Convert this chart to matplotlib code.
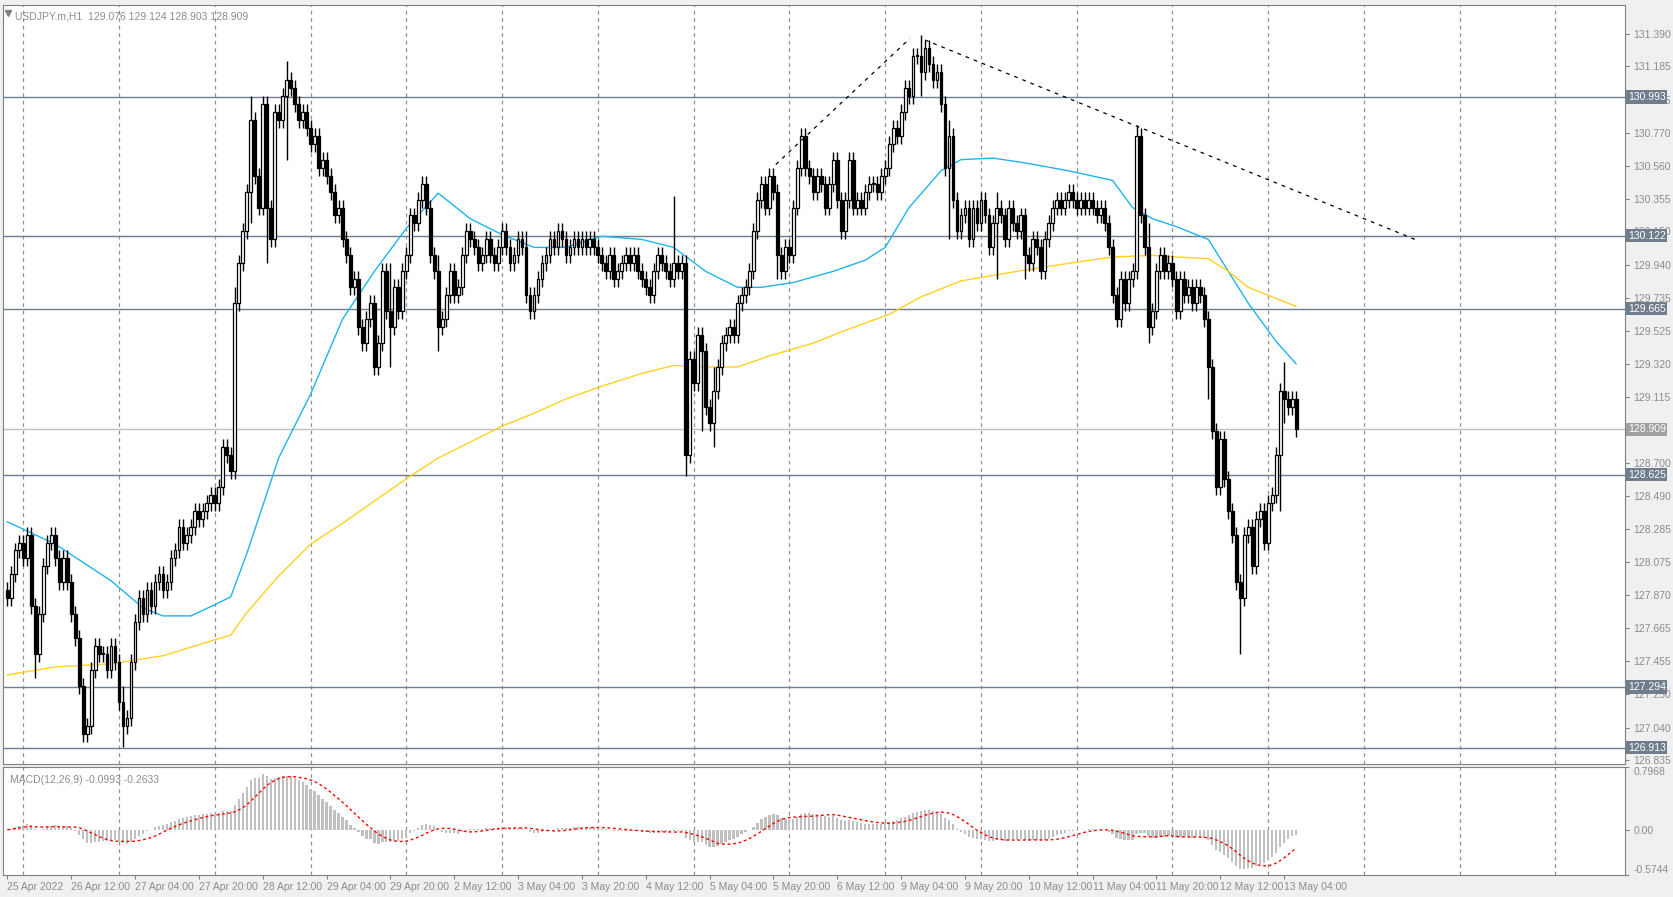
import matplotlib
matplotlib.use('Agg')
import matplotlib.pyplot as plt
import matplotlib.transforms as mtrans
import numpy as np
import pandas as pd

plt.rcParams['font.family'] = ['Liberation Sans', 'DejaVu Sans']

# hourly closes, USDJPY H1, first bar = 25 Apr 20:00
closes = [
    127.85, 128.0, 128.15, 128.2, 128.1, 128.25, 127.8, 127.5, 127.75, 128.05, 128.2, 128.25,
    128.1, 127.95, 128.1, 127.95, 127.75, 127.6, 127.3, 127.0, 127.05, 127.4, 127.55, 127.5,
    127.5, 127.4, 127.55, 127.45, 127.2, 127.05, 127.1, 127.45, 127.7, 127.85, 127.75, 127.9,
    127.8, 127.95, 128.0, 127.9, 127.95, 128.1, 128.15, 128.3, 128.2, 128.25, 128.3, 128.4,
    128.35, 128.4, 128.45, 128.5, 128.45, 128.55, 128.8, 128.75, 128.65, 129.7, 129.95, 130.15,
    130.4, 130.85, 130.5, 130.3, 130.95, 130.3, 130.1, 130.9, 130.85, 131.0, 131.1, 131.05,
    130.95, 130.85, 130.9, 130.8, 130.7, 130.75, 130.55, 130.6, 130.5, 130.4, 130.25, 130.3,
    130.1, 130.0, 129.8, 129.85, 129.55, 129.45, 129.6, 129.7, 129.3, 129.45, 129.9, 129.65,
    129.55, 129.8, 129.65, 129.9, 130.0, 130.25, 130.2, 130.35, 130.45, 130.3, 130.0, 129.9,
    129.55, 129.6, 129.75, 129.9, 129.75, 129.8, 130.0, 130.15, 130.1, 130.05, 129.95, 130.0,
    130.1, 130.0, 129.95, 130.05, 130.15, 130.05, 129.95, 130.0, 130.1, 130.05, 129.75, 129.65,
    129.75, 129.85, 129.95, 130.0, 130.1, 130.05, 130.15, 130.1, 130.0, 130.05, 130.1, 130.05,
    130.1, 130.05, 130.1, 130.05, 130.0, 129.95, 129.9, 130.0, 129.85, 129.9, 129.95, 130.0,
    129.95, 130.0, 129.9, 129.85, 129.8, 129.75, 129.9, 130.0, 129.95, 129.9, 129.85, 129.95,
    129.9, 129.95, 128.75, 129.35, 129.2, 129.5, 129.4, 129.05, 128.95, 129.15, 129.3, 129.45,
    129.5, 129.55, 129.5, 129.7, 129.75, 129.8, 129.9, 130.15, 130.35, 130.45, 130.3, 130.5,
    130.4, 130.0, 129.9, 130.05, 130.0, 130.3, 130.55, 130.75, 130.55, 130.5, 130.4, 130.5,
    130.45, 130.3, 130.45, 130.6, 130.35, 130.15, 130.35, 130.6, 130.3, 130.35, 130.3, 130.4,
    130.45, 130.45, 130.4, 130.5, 130.55, 130.7, 130.8, 130.75, 130.9, 131.05, 131.0, 131.25,
    131.25, 131.15, 131.3, 131.2, 131.1, 131.15, 130.95, 130.55, 130.75, 130.35, 130.15, 130.25,
    130.3, 130.1, 130.3, 130.2, 130.35, 130.25, 130.05, 130.2, 130.3, 130.25, 130.1, 130.3,
    130.2, 130.15, 130.25, 130.0, 129.95, 130.1, 130.05, 129.9, 130.1, 130.2, 130.3, 130.35,
    130.3, 130.35, 130.4, 130.35, 130.3, 130.35, 130.3, 130.35, 130.3, 130.25, 130.3, 130.2,
    130.05, 129.75, 129.6, 129.85, 129.7, 129.85, 129.9, 130.75, 130.25, 130.05, 129.55, 129.65,
    129.9, 130.0, 129.9, 129.95, 129.85, 129.65, 129.85, 129.75, 129.8, 129.7, 129.8, 129.75,
    129.6, 129.3, 128.9, 128.55, 128.85, 128.6, 128.4, 128.25, 127.95, 127.85, 128.25, 128.3,
    128.05, 128.35, 128.4, 128.2, 128.45, 128.5, 128.75, 129.15, 129.1, 129.05, 129.1, 128.909,
]
first_open = 127.9
# normal wick length, plus the long shadows: bar -> (high, low)
wick = 0.05
spikes = {
    7: (127.85, 127.35), 19: (127.35, 126.98), 29: (127.3, 126.92), 57: (129.8, 128.6),
    61: (131.0, 130.2), 65: (130.6, 129.95), 70: (131.22, 130.6), 92: (129.65, 129.28),
    96: (129.95, 129.3), 108: (130.0, 129.4), 130: (130.15, 129.7), 167: (130.37, 129.8),
    170: (129.95, 128.62), 174: (129.55, 128.9), 177: (129.3, 128.8), 193: (130.45, 129.85),
    229: (131.38, 131.0), 236: (130.85, 130.1), 248: (130.4, 129.85), 255: (130.2, 129.85),
    283: (130.82, 129.85), 286: (130.2, 129.45), 301: (129.65, 129.1), 309: (128.0, 127.5),
    319: (129.2, 128.4), 320: (129.33, 128.95),
}

# moving averages read at sparse bars (bar index, price)
ma_fast_x = [0, 12, 26, 34, 39, 46, 52, 56, 60, 68, 76, 84, 92, 100, 108, 116, 124, 132, 140,
             149, 159, 167, 175, 183, 189, 197, 207, 215, 220, 226, 234, 239, 247, 255, 266, 277,
             282, 287, 293, 301, 306, 311, 318, 323]
ma_fast_y = [128.33, 128.19, 127.96, 127.79, 127.74, 127.74, 127.81, 127.86, 128.13, 128.73,
             129.13, 129.6, 129.9, 130.17, 130.39, 130.23, 130.13, 130.05, 130.05, 130.12, 130.1,
             130.05, 129.9, 129.8, 129.8, 129.83, 129.9, 129.97, 130.05, 130.3, 130.53, 130.6,
             130.61, 130.58, 130.53, 130.47, 130.3, 130.23, 130.18, 130.1, 129.9, 129.7, 129.46,
             129.32]
ma_slow_x = [0, 12, 26, 39, 52, 56, 60, 68, 76, 84, 92, 100, 108, 116, 124, 132, 140, 149, 159,
             167, 175, 183, 191, 202, 210, 221, 229, 239, 253, 266, 277, 287, 293, 301, 306, 311,
             318, 323]
ma_slow_y = [127.37, 127.42, 127.44, 127.49, 127.59, 127.62, 127.76, 127.99, 128.19, 128.32,
             128.46, 128.6, 128.73, 128.83, 128.93, 129.01, 129.1, 129.18, 129.26, 129.31, 129.3,
             129.3, 129.37, 129.45, 129.53, 129.63, 129.74, 129.84, 129.9, 129.95, 129.99, 130.0,
             129.99, 129.98, 129.9, 129.8, 129.73, 129.68]

# dashed trend lines (bar, price)
trend_up = [(192.6, 130.57), (226.2, 131.36)]
trend_down = [(230.0, 131.35), (352.8, 130.1)]

levels = [130.993, 130.122, 129.665, 128.625, 127.294, 126.913]
last_price = 128.909
price_ticks = [131.390, 131.185, 130.975, 130.770, 130.560, 130.355, 130.150, 129.940, 129.735,
               129.525, 129.320, 129.115, 128.700, 128.490, 128.285, 128.075, 127.870, 127.665,
               127.455, 127.250, 127.040, 126.835]
time_labels = ['25 Apr 2022', '26 Apr 12:00', '27 Apr 04:00', '27 Apr 20:00', '28 Apr 12:00',
               '29 Apr 04:00', '29 Apr 20:00', '2 May 12:00', '3 May 04:00', '3 May 20:00',
               '4 May 12:00', '5 May 04:00', '5 May 20:00', '6 May 12:00', '9 May 04:00',
               '9 May 20:00', '10 May 12:00', '11 May 04:00', '11 May 20:00', '12 May 12:00',
               '13 May 04:00']

closes = np.array(closes)
n = len(closes)
idx = np.arange(n)
opens = np.concatenate([[first_open], closes[:-1]])
highs = np.maximum(opens, closes) + wick
lows = np.minimum(opens, closes) - wick
for k, (h, l) in spikes.items():
    highs[k] = max(highs[k], h)
    lows[k] = min(lows[k], l)

# MACD as MT4 draws it: EMA12-EMA26 histogram, SMA9 signal
s = pd.Series(closes)
macd = (s.ewm(span=12, adjust=False).mean() - s.ewm(span=26, adjust=False).mean()).values
signal = pd.Series(macd).rolling(9, min_periods=1).mean().values

GRID = '#909090'
LVL = '#6f7d8c'
TXT = '#8c8c8c'
FS = 7.5
XMAX = 405.5

fig = plt.figure(figsize=(16.73, 8.97), dpi=100, facecolor='#f0f0f0')
ax = fig.add_axes([0.002, 0.148, 0.9695, 0.8465], facecolor='white')
axm = fig.add_axes([0.002, 0.0245, 0.9695, 0.1205], facecolor='white')

for a in (ax, axm):
    a.set_xlim(-1, XMAX)
    for sp in a.spines.values():
        sp.set_color('#808080')
    for d in range(4, int(XMAX), 24):
        a.axvline(d, color=GRID, ls=(0, (3, 3)), lw=0.9, zorder=0)

ax.set_ylim(126.81, 131.57)

# candles
up = closes >= opens
ax.vlines(idx, lows, highs, color='black', lw=1.0, zorder=3)
bottoms = np.minimum(opens, closes)
heights = np.maximum(np.abs(closes - opens), 0.006)
ax.bar(idx[up], heights[up], bottom=bottoms[up], width=0.7, facecolor='white',
       edgecolor='black', lw=0.9, zorder=4)
ax.bar(idx[~up], heights[~up], bottom=bottoms[~up], width=0.7, facecolor='black',
       edgecolor='black', lw=0.9, zorder=4)

ax.plot(ma_fast_x, ma_fast_y, color='#1eb4ee', lw=1.0, zorder=2)
ax.plot(ma_slow_x, ma_slow_y, color='#ffd21e', lw=1.0, zorder=2)
for tl in (trend_up, trend_down):
    ax.plot([p[0] for p in tl], [p[1] for p in tl], color='black', lw=0.9,
            ls=(0, (3, 4)), zorder=5)

for lv in levels:
    ax.axhline(lv, color=LVL, lw=1.0, zorder=1)
ax.axhline(last_price, color='#c0c0c0', lw=1.0, zorder=1)

ax.yaxis.tick_right()
ax.set_yticks(price_ticks)
ax.set_yticklabels([f'{v:.3f}' for v in price_ticks])
ax.tick_params(axis='y', colors='#808080', labelcolor=TXT, labelsize=FS, length=3, pad=3)
ax.set_xticks([])

tr = mtrans.blended_transform_factory(ax.transAxes, ax.transData)
for lv in levels:
    ax.text(1.0015, lv, f'{lv:.3f}', transform=tr, ha='left', va='center', fontsize=FS,
            color='white', zorder=10,
            bbox=dict(boxstyle='square,pad=0.15', fc=LVL, ec='none'))
ax.text(1.0015, last_price, f'{last_price:.3f}', transform=tr, ha='left', va='center',
        fontsize=FS, color='white', zorder=10,
        bbox=dict(boxstyle='square,pad=0.15', fc='#a0a0a0', ec='none'))

ax.text(0.007, 0.992, 'USDJPY.m,H1  129.076 129.124 128.903 128.909', transform=ax.transAxes,
        ha='left', va='top', fontsize=FS, color=TXT)
ax.plot([0.0028], [0.9895], marker='v', color='#808080', markersize=4, transform=ax.transAxes)

# MACD panel
axm.set_ylim(-0.5744, 0.7968)
axm.bar(idx, macd, width=0.55, color='#c0c0c0', zorder=2)
axm.plot(idx, signal, color='red', lw=1.0, ls=(0, (2, 2)), zorder=3)
axm.yaxis.tick_right()
axm.set_yticks([0.7968, 0.0, -0.5744])
axm.set_yticklabels(['0.7968', '0.00', '-0.5744'])
axm.get_yticklabels()[0].set_va('top')
axm.get_yticklabels()[2].set_va('bottom')
axm.tick_params(axis='y', colors='#808080', labelcolor=TXT, labelsize=FS, length=3, pad=3)
axm.text(0.004, 0.93, 'MACD(12,26,9) -0.0993 -0.2633', transform=axm.transAxes,
         ha='left', va='top', fontsize=FS, color=TXT)

xt = list(range(0, 16 * len(time_labels), 16))
axm.set_xticks(xt)
axm.set_xticklabels(time_labels, ha='left')
axm.tick_params(axis='x', colors='#808080', labelcolor=TXT, labelsize=FS, length=3, pad=2)

fig.savefig('out.png', dpi=100, facecolor=fig.get_facecolor())
